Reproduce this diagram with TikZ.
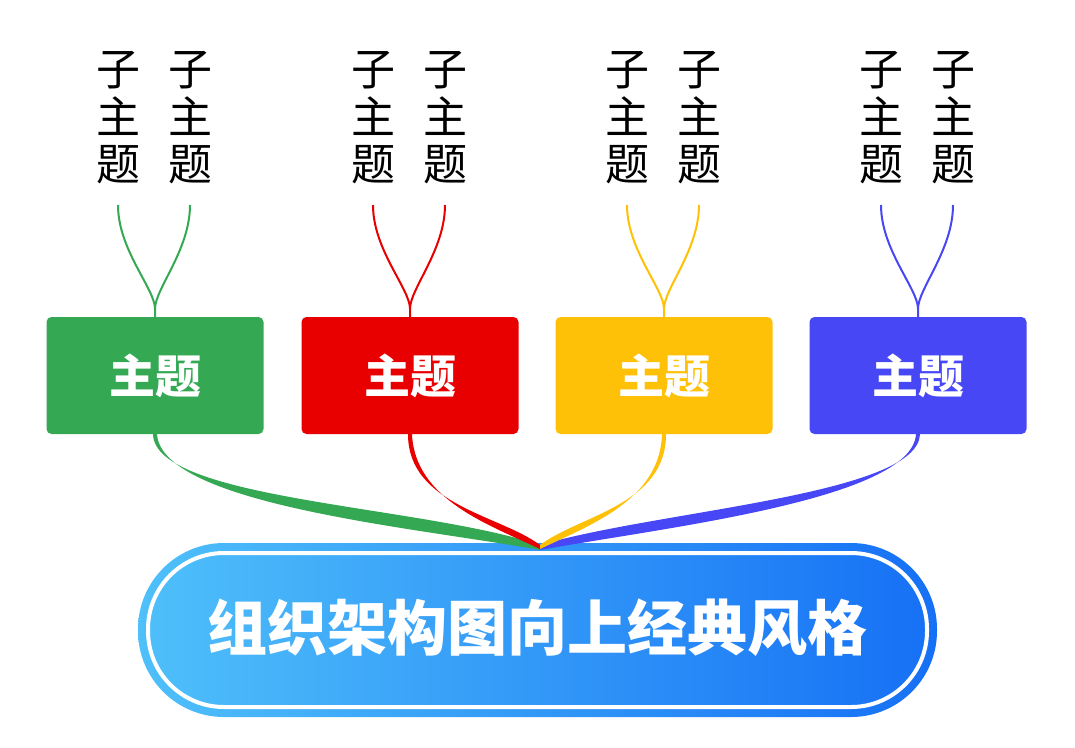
\documentclass[tikz,border=0pt]{standalone}
\usepackage{fontspec}
\newfontfamily\cjk{Noto Sans CJK SC}
\definecolor{cg}{HTML}{34A853}
\definecolor{cr}{HTML}{E80000}
\definecolor{cy}{HTML}{FFC107}
\definecolor{cb}{HTML}{4747F5}
\definecolor{rl}{HTML}{4FC0FA}
\definecolor{rr}{HTML}{1670F5}
\begin{document}
\begin{tikzpicture}[x=1pt,y=-1pt,
  topic/.style={rounded corners=5pt,minimum width=217pt,minimum height=117pt,inner sep=0pt,text=white,font=\cjk\bfseries\fontsize{46}{50}\selectfont},
  sub/.style={align=center,inner sep=0pt,font=\cjk\fontsize{44}{47.5}\selectfont}]
\useasboundingbox (0,0) rectangle (1075,747);
% root
\shade[left color=rl,right color=rr,rounded corners=86pt] (138,543) rectangle (937,717);
\draw[white,line width=4pt,rounded corners=76pt] (148,553) rectangle (927,707);
\node[text=white,font=\cjk\bfseries\fontsize{60}{64}\selectfont] (root) at (537,628) {组织架构图向上经典风格};
\coordinate (J) at (540,545);
% topics
\foreach \n/\x/\c in {g/155/cg,r/410/cr,y/664/cy,b/918/cb}{
  \node[topic,fill=\c] (\n) at (\x,375.5) {主题};
  \node[sub] (\n1) at (\x-37,118) {子\\主\\题};
  \node[sub] (\n2) at (\x+35,118) {子\\主\\题};
  \draw[\c,line width=2pt] (\n.north) -- ++(0,-8) .. controls ++(0,-20) and (\x-37,250) .. (\x-37,205);
  \draw[\c,line width=2pt] (\n.north) ++(0,-8) .. controls ++(0,-20) and (\x+35,250) .. (\x+35,205);
}
% ribbons
\fill[cg] (g.south) ++(-2,0) .. controls (155,500) and (420,505) .. (J) -- ++(0,5) .. controls (420,528) and (162,505) .. ([xshift=2pt]g.south) -- cycle;
\fill[cb] (b.south) ++(2,0) .. controls (918,495) and (660,510) .. (J) -- ++(0,5) .. controls (660,528) and (912,500) .. ([xshift=-2pt]b.south) -- cycle;
\fill[cr] (r.south) ++(-2,0) .. controls (408,505) and (500,515) .. (J) -- ++(0,4) .. controls (490,525) and (415,500) .. ([xshift=2pt]r.south) -- cycle;
\fill[cy] (y.south) ++(2,0) .. controls (666,505) and (580,515) .. (J) -- ++(0,4) .. controls (590,525) and (660,500) .. ([xshift=-2pt]y.south) -- cycle;
\end{tikzpicture}
\end{document}
